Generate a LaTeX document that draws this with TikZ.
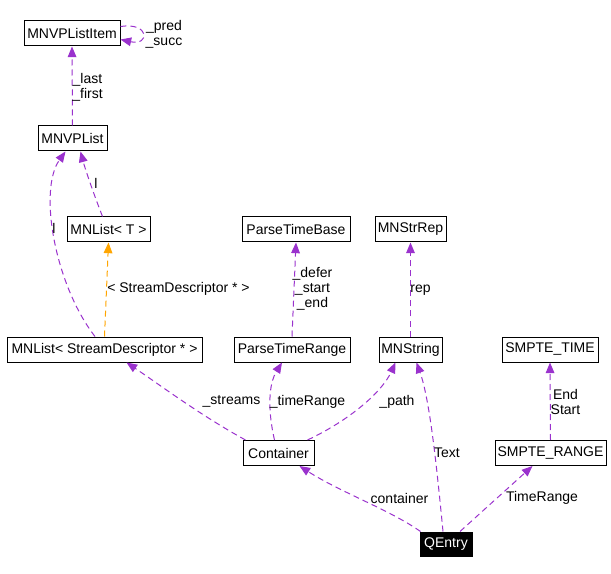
\documentclass[tikz,border=0pt]{standalone}
\usepackage{fontspec}
\setmainfont{Liberation Sans}
\usetikzlibrary{arrows.meta,calc}
\definecolor{rel}{HTML}{9A32CD}
\definecolor{tmpl}{HTML}{FFA500}
\begin{document}
\begin{tikzpicture}[x=0.75pt,y=-0.75pt,
  font=\fontsize{10.5}{11.25}\selectfont,
  box/.style={draw=black, line width=0.75pt, rectangle, inner sep=0pt, minimum height=18.75pt},
  lbl/.style={inner sep=0pt, align=center},
  relline/.style={draw=rel, line width=0.75pt, dash pattern=on 4.5pt off 3pt, -{Triangle[length=8pt,width=6.5pt]}, rel},
  tmplline/.style={relline, draw=tmpl, tmpl}]
\useasboundingbox (0,0) rectangle (611,574);
% nodes
\node[box, minimum width=72pt] (item) at (72,33.5) {MNVPListItem};
\node[box, minimum width=51.75pt] (vpl) at (72.5,138.5) {MNVPList};
\node[box, minimum width=62.25pt] (mlt) at (108.5,229.5) {MNList< T >};
\node[box, minimum width=146.25pt] (mlsd) at (104.5,349.5) {MNList< StreamDescriptor * >};
\node[box, minimum width=81pt] (ptb) at (296,229.5) {ParseTimeBase};
\node[box, minimum width=53.25pt] (rep) at (410.5,229.5) {MNStrRep};
\node[box, minimum width=87pt] (ptr) at (292,349.5) {ParseTimeRange};
\node[box, minimum width=47.25pt] (mns) at (410.5,349.5) {MNString};
\node[box, minimum width=72pt] (stime) at (550,349.5) {SMPTE\_TIME};
\node[box, minimum width=53.25pt] (cont) at (278.5,453) {Container};
\node[box, minimum width=83.25pt] (srange) at (550.5,453) {SMPTE\_RANGE};
\node[box, fill=black, text=white, minimum width=39pt, minimum height=18pt] (qe) at (446,544) {QEntry};
% edges
\draw[relline] ($(item.east)+(0,-7)$) .. controls (150,22) and (150,46) .. ($(item.east)+(0,6)$);
\node[lbl] (lpred) at (164,34.5) {\_pred\\\_succ};
\draw[relline] (vpl.north) -- (item.south);
\node[lbl] (llast) at (87.5,87.5) {\_last\\\_first};
\draw[relline] ($(mlt.north)+(-6,0)$) .. controls (96,200) and (86,172) .. ($(vpl.south)+(8,0)$);
\node[lbl] (l1) at (96,183) {l};
\draw[relline] ($(mlsd.north)+(-9.5,0)$) .. controls (55,285) and (38,190) .. ($(vpl.south)+(-7,0)$);
\node[lbl] (l2) at (54,228.5) {l};
\draw[tmplline] (mlsd.north) -- (mlt.south);
\node[lbl, anchor=west] (lsd) at (107,289) {< StreamDescriptor * >};
\draw[relline] (ptr.north) -- (ptb.south);
\node[lbl] (ldef) at (312.5,289) {\_defer\\\_start\\\_end};
\draw[relline] (mns.north) -- (rep.south);
\node[lbl] (lrep) at (420.5,290) {rep};
\draw[relline] (srange.north) -- (stime.south);
\node[lbl] (lend) at (565.5,401.5) {End\\Start};
\draw[relline] ($(cont.north west)+(3,0)$) .. controls (200,415) and (160,385) .. ($(mlsd.south)+(22,0)$);
\node[lbl] (lstr) at (231.5,401.5) {\_streams};
\draw[relline] ($(cont.north)+(-4,0)$) .. controls (268,412) and (268,385) .. ($(ptr.south)+(-10,0)$);
\node[lbl] (ltr) at (307.5,401.5) {\_timeRange};
\draw[relline] ($(cont.north)+(29,0)$) .. controls (350,420) and (382,392) .. ($(mns.south)+(-15,0)$);
\node[lbl] (lpath) at (397,401.5) {\_path};
\draw[relline] ($(qe.north)+(-3,0)$) .. controls (437,470) and (430,400) .. ($(mns.south)+(6,0)$);
\node[lbl] (ltext) at (447,453) {Text};
\draw[relline] ($(qe.north west)+(1,0)$) .. controls (390,510) and (340,492) .. ($(cont.south)+(21,0)$);
\node[lbl] (lcont) at (399.5,498) {container};
\draw[relline] ($(qe.north)+(14,0)$) -- ($(srange.south)+(-18,0)$);
\node[lbl] (ltime) at (542,498) {TimeRange};
\end{tikzpicture}
\end{document}
